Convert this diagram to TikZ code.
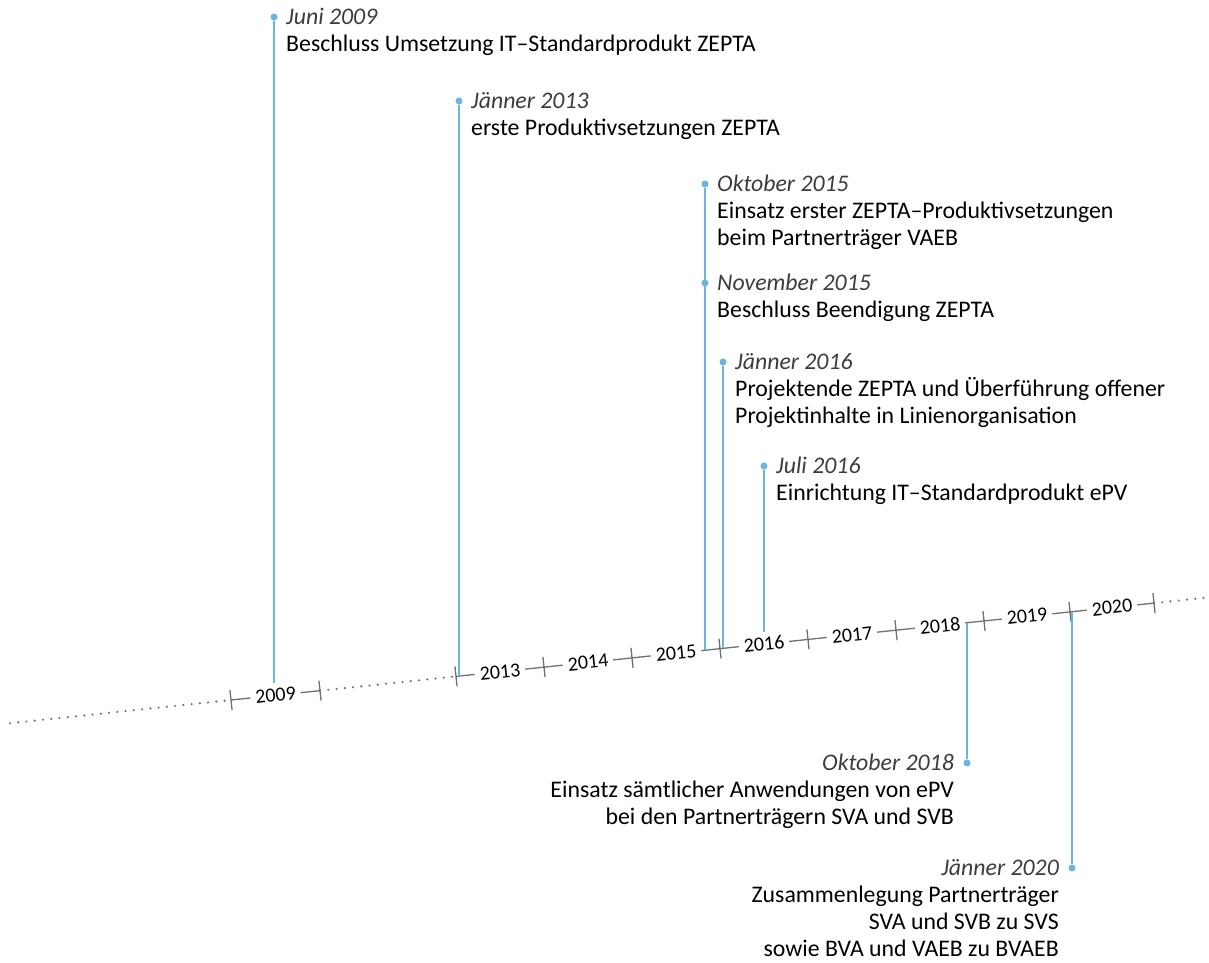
\documentclass[tikz,border=0pt]{standalone}
\usepackage{fontspec}
\setmainfont{Carlito}
\usetikzlibrary{calc,positioning}

\definecolor{evblue}{RGB}{108,180,226}
\definecolor{axisgray}{RGB}{112,112,112}
\definecolor{dategray}{RGB}{60,60,60}
\newcommand{\evdate}[1]{{\itshape\color{dategray}#1}}

\tikzset{
  evline/.style={evblue, line width=2},
  evdot/.style={circle, fill=evblue, inner sep=0, minimum size=7},
  evtext/.style={align=left, inner sep=0, font=\fontsize{23.8}{27}\selectfont,
    execute at begin node=\strut},
  evtextR/.style={evtext, align=right},
  axsolid/.style={axisgray, line width=1.3},
  axdots/.style={axisgray, line width=2.4, line cap=round, dash pattern=on 0pt off 8.3pt},
  axtick/.style={axisgray, line width=1.3},
  yearlbl/.style={fill=white, rotate=6, inner xsep=5, inner ysep=1,
    font=\fontsize{20}{24}\selectfont}
}

\begin{document}
\begin{tikzpicture}[x=1pt, y=-1pt]
  \useasboundingbox (0,0) rectangle (1209,962);

  % axis
  \foreach \n/\x in {1/231,2/320,3/456,4/544,5/632,6/720,7/808,8/896,9/984,10/1070,11/1154}
    \coordinate (k\n) at (\x,{700-0.105*(\x-231)});
  \coordinate (axL) at (10,{700+0.105*221});
  \coordinate (axR) at (1209,{700-0.105*978});
  \draw[axdots] (axL) -- (k1);
  \draw[axsolid] (k1) -- (k2);
  \draw[axdots] (k2) -- (k3);
  \draw[axsolid] (k3) -- (k11);
  \draw[axdots] (k11) -- (axR);
  \foreach \n in {1,...,11}
    \draw[axtick] ($(k\n)+(-1.05,-10)$) -- ($(k\n)+(1.05,10)$);

  % events above the axis
  \node[evdot] (dJun09) at (274,17) {};
  \node[evtext, anchor=north west] (tJun09) at ($(dJun09)+(12,-8.9)$)
    {\evdate{Juni 2009}\\Beschluss Umsetzung IT–Standardprodukt ZEPTA};
  \coordinate (eJun09) at (274,683);
  \draw[evline] (dJun09) -- (eJun09);

  \node[evdot] (dJan13) at (459,101) {};
  \node[evtext, anchor=north west] (tJan13) at ($(dJan13)+(12,-8.9)$)
    {\evdate{Jänner 2013}\\erste Produktivsetzungen ZEPTA};
  \coordinate (eJan13) at (459,{700-0.105*(459-231)});
  \draw[evline] (dJan13) -- (eJan13);

  \node[evdot] (dOkt15) at (705,184) {};
  \node[evtext, anchor=north west] (tOkt15) at ($(dOkt15)+(12,-8.9)$)
    {\evdate{Oktober 2015}\\Einsatz erster ZEPTA–Produktivsetzungen\\beim Partnerträger VAEB};
  \coordinate (eOkt15) at (705,{700-0.105*(705-231)});
  \draw[evline] (dOkt15) -- (eOkt15);

  \node[evdot] (dNov15) at (705,283) {};
  \node[evtext, anchor=north west] (tNov15) at ($(dNov15)+(12,-8.9)$)
    {\evdate{November 2015}\\Beschluss Beendigung ZEPTA};

  \node[evdot] (dJan16) at (723,362) {};
  \node[evtext, anchor=north west] (tJan16) at ($(dJan16)+(12,-8.9)$)
    {\evdate{Jänner 2016}\\Projektende ZEPTA und Überführung offener\\Projektinhalte in Linienorganisation};
  \coordinate (eJan16) at (723,{700-0.105*(723-231)});
  \draw[evline] (dJan16) -- (eJan16);

  \node[evdot] (dJul16) at (764,466) {};
  \node[evtext, anchor=north west] (tJul16) at ($(dJul16)+(12,-8.9)$)
    {\evdate{Juli 2016}\\Einrichtung IT–Standardprodukt ePV};
  \coordinate (eJul16) at (764,632);
  \draw[evline] (dJul16) -- (eJul16);

  % events below the axis
  \coordinate (eOkt18) at (967,{700-0.105*(967-231)});
  \node[evdot] (dOkt18) at (967,763) {};
  \node[evtextR, anchor=north east] (tOkt18) at ($(dOkt18)+(-13,-8.9)$)
    {\evdate{Oktober 2018}\\Einsatz sämtlicher Anwendungen von ePV\\bei den Partnerträgern SVA und SVB};
  \draw[evline] (eOkt18) -- (dOkt18);

  \coordinate (eJan20) at (1072,{700-0.105*(1072-231)});
  \node[evdot] (dJan20) at (1072,868) {};
  \node[evtextR, anchor=north east] (tJan20) at ($(dJan20)+(-13,-8.9)$)
    {\evdate{Jänner 2020}\\Zusammenlegung Partnerträger\\SVA und SVB zu SVS\\sowie BVA und VAEB zu BVAEB};
  \draw[evline] (eJan20) -- (dJan20);

  % year labels
  \foreach \a/\b/\yr in {1/2/2009,3/4/2013,4/5/2014,5/6/2015,6/7/2016,7/8/2017,8/9/2018,9/10/2019,10/11/2020}
    \node[yearlbl] (y\yr) at ($(k\a)!0.5!(k\b)$) {\yr};
\end{tikzpicture}
\end{document}
